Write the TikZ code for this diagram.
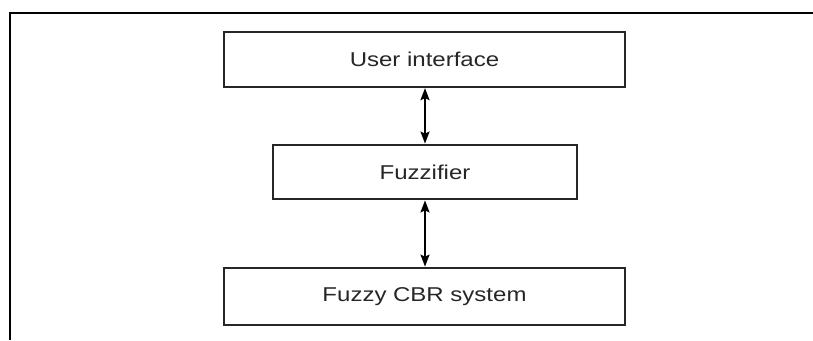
\documentclass[tikz,border=0pt]{standalone}
\usepackage{fontspec}
\setmainfont{Liberation Sans}[FakeStretch=1.2]
\usetikzlibrary{arrows.meta}
\begin{document}
\begin{tikzpicture}[x=1pt,y=-1pt,
  block/.style={draw=black!85, line width=2.3pt, minimum width=401pt, minimum height=55pt,
    inner sep=0pt, font=\fontsize{20}{22}\selectfont, text=black!85},
  tip/.style={Stealth[length=12pt,width=9pt,inset=2pt]},
  link/.style={line width=1.9pt, {Stealth[length=12pt,width=9pt,inset=2pt]}-{Stealth[length=12pt,width=9pt,inset=2pt]}}]
  \useasboundingbox (0,0) rectangle (813,340);
  % surrounding frame, open to the right and bottom
  \draw[line width=2pt] (10,340) -- (10,13) -- (813,13);
  % the three layers
  \node[block] (ui) at (424.5,59.5) {User interface};
  \node[block, minimum width=303.5pt, minimum height=54.5pt] (fz) at (425,172) {Fuzzifier};
  \node[block, minimum height=57.5pt] (cbr) at (424.5,296.5) {Fuzzy CBR system};
  % two-way links between layers
  \draw[link] (ui.south -| fz.north) -- (fz.north);
  \draw[link] (fz.south) -- (cbr.north -| fz.south);
\end{tikzpicture}
\end{document}
